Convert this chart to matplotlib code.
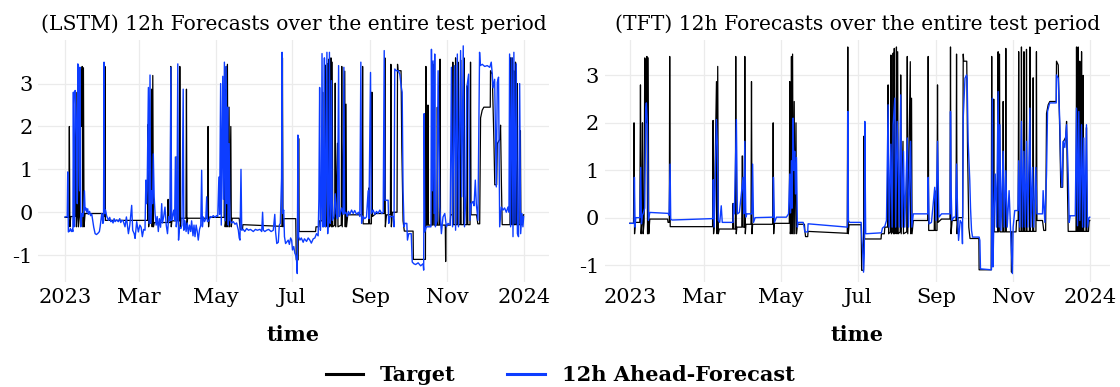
import matplotlib
matplotlib.use("Agg")
import matplotlib.pyplot as plt
import numpy as np
import pandas as pd

# (day of 2023, value)
target = [
    (0, -0.12), (3.0, -0.12), (3.4, 2.0), (3.8, -0.34), (4.5, -0.1),
    (8.0, -0.1), (8.5, 2.8), (9.0, -0.34), (9.6, -0.1), (10.1, 2.0), (10.6, -0.34),
    (11.4, -0.1), (11.9, 3.37), (12.4, 3.3), (12.8, 2.0), (13.2, 2.9), (13.6, 3.4),
    (14.1, -0.34), (14.6, 3.37), (15.1, -0.34), (15.9, -0.03),
    (30.0, -0.03), (30.4, -0.1), (31.4, -0.1), (31.7, 3.4), (32.1, -0.19),
    (65.7, -0.19), (66.1, 2.05), (66.5, -0.34), (67.0, -0.2), (68.8, 2.87), (69.3, -0.34),
    (69.8, 3.19), (70.3, -0.34), (71.0, -0.24),
    (81.7, -0.24), (82.0, 0.3), (82.4, -0.24), (83.8, -0.24), (84.1, 3.4), (84.5, -0.34), (85.0, -0.2),
    (88.9, -0.2), (89.2, 1.3), (89.5, 1.3), (89.8, -0.2), (91.0, -0.2), (91.3, 3.4), (91.7, -0.34),
    (92.2, -0.14), (96.2, -0.14), (96.6, 2.87), (97.0, -0.34), (97.5, -0.14),
    (113.4, -0.14), (113.8, 2.0), (114.2, -0.34), (114.7, -0.12),
    (126.6, -0.12), (127.0, 2.87), (127.4, -0.34), (128.0, -0.2), (128.3, 3.4), (128.7, -0.34),
    (129.2, 3.45), (129.7, -0.34), (130.5, 2.45), (130.9, -0.34), (131.9, 2.0), (132.3, -0.34), (133.0, -0.14),
    (138.6, -0.14), (139.0, -0.29), (139.5, -0.4), (141.2, -0.4), (141.5, -0.29),
    (172.6, -0.33), (173.0, 3.6), (173.4, -0.34), (174.0, -0.15),
    (183.6, -0.15), (184.0, -1.11), (185.5, -1.11), (185.9, 1.72), (186.3, -0.45),
    (199.4, -0.45), (199.7, -0.34), (202.0, -0.34), (202.4, -0.2),
    (204.6, -0.2), (205.0, 2.8), (205.4, -0.34), (206.8, -0.3), (207.2, 3.43), (207.6, -0.34),
    (208.6, -0.3), (209.0, 3.47), (209.4, -0.34), (209.9, 3.57), (210.3, -0.34), (211.2, -0.3),
    (211.6, 3.6), (212.0, -0.34), (212.6, 3.5), (213.0, -0.34), (214.6, -0.3), (215.0, 3.01),
    (215.4, -0.34), (216.8, 1.61), (217.2, -0.34), (219.8, -0.3), (220.2, 3.4), (220.6, -0.34),
    (222.6, 3.29), (223.0, -0.34), (223.6, 2.52), (224.0, -0.34), (225.0, -0.06),
    (236.4, -0.06), (236.8, 3.4), (237.2, -0.27),
    (241.6, -0.27), (242.0, 0.57), (242.4, -0.27), (243.8, -0.27), (244.2, 2.8), (244.6, -0.1), (247.4, -0.03),
    (254.1, -0.03), (254.5, 3.6), (254.9, -0.34), (255.8, -0.06), (258.9, -0.06), (259.3, 3.45),
    (259.7, -0.34), (260.5, 0.0), (264.2, 0.0), (264.6, 3.45), (265.0, 3.3), (267.4, 3.3),
    (268.0, 1.5), (269.0, -0.2), (270.0, -0.44),
    (277.0, -0.44), (277.2, -1.1), (286.8, -1.1), (287.2, 3.4), (287.6, -0.3), (288.4, -0.3),
    (288.8, 2.5), (289.2, -0.3), (291.9, -0.3), (292.3, 3.5), (292.7, -0.3), (293.4, 3.45),
    (293.8, -0.3), (296.0, -0.3), (296.3, 2.45), (296.7, -0.3), (298.0, -0.3), (298.4, 3.57),
    (298.8, -0.3), (302.6, -0.3), (302.9, -1.15), (303.2, -0.3), (306.5, -0.3), (306.9, -0.06),
    (308.2, -0.06), (308.6, 3.5), (309.0, -0.29), (310.5, -0.29), (310.8, 3.6), (311.2, -0.29),
    (312.4, -0.29), (312.8, 3.5), (313.2, -0.29), (314.5, -0.29), (314.8, 3.55), (315.2, -0.29),
    (317.1, -0.29), (317.5, 3.6), (317.9, -0.29), (319.7, -0.29), (320.1, 2.95), (320.5, -0.29),
    (322.3, -0.29), (322.7, 3.5), (323.1, -0.06), (327.5, -0.06), (328.5, -0.27), (330.0, -0.27),
    (330.7, 2.2), (332.0, 2.38), (333.3, 2.45), (338.4, 2.45), (338.6, 3.3), (340.0, 3.22),
    (341.3, 1.68), (342.0, 0.64), (343.5, 0.64), (344.0, 1.6), (346.0, 1.7), (346.6, 2.03),
    (347.3, 0.64), (347.9, -0.29), (354.1, -0.29), (354.5, 3.6), (354.9, -0.29), (355.4, -0.29),
    (355.8, 3.6), (356.2, -0.29), (356.7, -0.29), (357.1, 3.3), (357.5, -0.29), (358.1, -0.29),
    (358.5, 3.5), (358.9, -0.29), (359.4, -0.29), (359.8, 3.0), (360.2, -0.29), (362.0, -0.29),
    (362.4, 1.9), (362.8, -0.29), (364.0, -0.29), (364.5, -0.06), (365.0, -0.06),
]

lstm_forecast = [
    (0.0, -0.11), (1.7, -0.1), (2.1, 0.94), (2.6, -0.46), (3.5, -0.44), (4.2, -0.38), (5.0, -0.45),
    (5.8, -0.4), (6.2, -0.45), (6.6, 2.8), (7.1, -0.34), (7.6, -0.3), (8.0, 2.84), (8.6, 2.4),
    (9.3, 1.67), (9.7, 0.2), (10.1, 3.46), (10.6, 3.42), (11.1, 1.67), (11.5, 0.5), (11.9, 3.38),
    (12.5, -0.34), (13.3, -0.03), (14.2, -0.1), (14.6, -0.02), (15.4, 0.5), (15.9, 0.05),
    (16.5, 0.1), (17.2, 0.0), (18.0, 0.08), (18.55, -0.05), (19.5, 0.02), (20.3, -0.08),
    (21.2, -0.04), (22.0, -0.2), (22.8, -0.35), (23.9, -0.5), (25.0, -0.52), (26.5, -0.48),
    (27.3, -0.45), (27.9, -0.34), (29.2, -0.03), (30.1, -0.26), (30.6, -0.2), (31.0, 3.5),
    (31.5, -0.03), (32.2, 0.05), (33.0, -0.08), (34.5, -0.19), (35.5, -0.12), (36.4, -0.22),
    (37.1, -0.19), (38.2, -0.25), (39.0, -0.15), (39.8, -0.22), (41.0, -0.18), (42.4, -0.22),
    (43.5, -0.15), (44.3, -0.24), (45.1, -0.19), (46.2, -0.2), (47.7, -0.34), (48.8, -0.11),
    (50.4, -0.5), (51.5, -0.3), (53.0, 0.16), (53.8, -0.42), (55.0, -0.5), (55.7, -0.61),
    (57.0, -0.22), (58.3, -0.46), (59.5, -0.3), (60.5, -0.35), (61.5, -0.57), (62.5, -0.4),
    (63.6, -0.42), (64.3, 0.75), (64.8, 0.2), (65.3, 0.5), (66.3, 2.91), (66.8, -0.26),
    (67.6, 3.2), (68.1, -0.26), (68.9, 0.5), (69.6, 0.2), (70.2, 1.36), (70.9, 0.36),
    (71.6, -0.03), (72.5, -0.3), (73.3, -0.1), (74.2, -0.45), (75.0, -0.15), (76.0, -0.35),
    (76.9, 0.2), (77.5, -0.25), (78.5, -0.1), (79.5, 0.12), (80.5, -0.3), (81.5, -0.5),
    (82.5, -0.1), (83.5, -0.2), (84.2, 3.38), (84.8, -0.19), (85.5, -0.1), (86.5, 0.05),
    (87.2, -0.2), (87.8, 1.29), (88.5, -0.34), (89.0, -0.2), (89.7, 3.46), (90.3, -0.65),
    (91.0, -0.35), (92.2, -0.38), (93.0, -0.3), (94.0, 2.87), (94.5, -0.42), (95.4, -0.2),
    (96.3, -0.45), (97.2, -0.25), (98.1, -0.5), (99.0, -0.3), (100.0, -0.45), (100.7, -0.2),
    (101.8, -0.55), (102.6, -0.3), (103.4, -0.57), (104.3, -0.3), (105.2, -0.45), (106.0, -0.65),
    (107.0, -0.4), (108.0, -0.3), (108.7, 0.98), (109.3, -0.34), (110.0, -0.11), (111.0, -0.22),
    (112.0, -0.15), (112.7, 0.36), (113.3, -0.22), (114.5, -0.2), (115.6, -0.1), (116.6, -0.12),
    (118.0, -0.08), (119.3, -0.12), (120.5, -0.08), (121.5, -0.1), (122.4, 0.82), (123.0, -0.05),
    (123.8, 3.0), (124.3, -0.3), (125.5, 3.17), (126.0, 0.3), (126.8, 3.5), (127.4, -0.2),
    (128.2, 3.4), (128.8, 0.2), (129.4, 2.45), (129.9, -0.3), (130.6, 1.6), (131.2, -0.19),
    (132.5, -0.25), (133.9, -0.22), (135.2, -0.28), (136.5, -0.25), (137.9, -0.42), (138.6, -0.6),
    (139.2, -0.65), (140.0, 1.0), (140.6, -0.42), (141.8, -0.4), (143.0, -0.45), (144.5, -0.38),
    (146.0, -0.42), (147.5, -0.4), (149.8, -0.45), (151.5, -0.4), (153.0, -0.42), (155.1, -0.4),
    (156.5, -0.45), (157.2, 0.0), (157.8, -0.42), (159.0, -0.45), (160.4, -0.42), (162.0, -0.4),
    (164.0, -0.45), (165.7, -0.42), (166.9, -0.05), (167.5, -0.45), (168.5, -0.73), (169.7, -0.7),
    (170.5, -0.3), (171.3, -0.26), (172.3, 0.8), (172.7, 3.73), (173.2, -0.03), (174.0, 0.05),
    (174.6, -0.57), (175.5, -0.73), (176.3, -0.7), (177.6, -0.65), (178.5, -0.75), (179.5, -0.6),
    (180.3, -0.65), (181.0, -0.88), (182.0, -0.8), (182.9, -0.96), (183.6, -1.0), (184.2, -1.1),
    (184.8, -1.43), (185.3, 1.8), (185.9, -0.57), (186.9, -0.65), (188.0, -0.6), (189.5, -0.7),
    (190.5, -0.62), (192.2, -0.68), (193.5, -0.6), (194.8, -0.65), (196.0, -0.72), (197.5, -0.62),
    (198.8, -0.6), (200.1, -0.5), (201.4, -0.55), (202.0, 0.3), (202.6, 2.91), (203.2, -0.42),
    (204.0, 0.2), (204.5, 3.7), (205.2, -0.34), (205.8, 0.3), (206.4, 3.6), (207.0, -0.34),
    (207.6, 0.5), (208.4, 3.73), (209.0, -0.5), (209.8, 0.2), (210.4, 3.73), (211.0, -0.26),
    (211.5, 0.1), (212.0, 3.07), (212.7, -0.19), (214.0, -0.1), (215.0, 0.43), (215.8, -0.03),
    (216.8, -0.15), (217.7, 3.42), (218.3, -0.1), (219.0, -0.03), (220.0, 0.1), (221.3, -0.05),
    (221.9, 3.38), (222.5, -0.03), (223.5, 0.0), (224.5, -0.1), (225.5, 0.02), (226.6, -0.05),
    (228.0, 0.05), (229.3, -0.03), (230.5, 0.04), (232.0, -0.05), (233.5, 0.0), (234.6, -0.1),
    (235.4, 3.5), (236.0, -0.26), (237.3, -0.1), (238.5, -0.15), (239.9, -0.11), (241.2, 0.5),
    (241.8, -0.15), (243.1, 3.26), (243.7, -0.03), (245.2, 0.05), (246.5, -0.05), (247.9, 0.02),
    (249.0, -0.03), (250.5, 0.05), (252.0, -0.03), (253.2, 0.0), (254.0, 3.77), (254.6, 0.28),
    (255.8, 0.28), (257.1, 0.28), (257.6, -0.26), (258.5, -0.1), (260.0, -0.1), (261.1, -0.1),
    (261.8, -0.34), (262.4, 3.34), (263.7, 3.3), (265.1, 3.3), (266.4, 3.22), (267.7, 2.9),
    (268.3, 2.8), (269.0, 0.5), (269.8, -0.34), (270.4, -0.26), (272.0, -0.26), (272.5, -0.65),
    (273.5, -0.5), (275.5, -0.5), (276.3, -1.16), (277.5, -1.2), (279.0, -1.22), (281.0, -1.18),
    (283.0, -1.25), (285.0, -1.2), (285.4, -1.35), (285.8, 2.3), (286.3, -0.46), (287.6, -0.34),
    (289.5, -0.34), (291.2, -0.34), (291.6, 3.8), (292.3, 0.5), (292.9, 3.53), (293.7, -0.03),
    (294.2, 3.69), (294.7, -0.34), (296.0, -0.2), (296.9, 3.3), (298.2, 0.12), (299.5, -0.5),
    (300.8, -0.11), (302.2, -0.03), (303.5, -0.34), (304.8, -0.26), (306.5, -0.3), (307.5, 3.38),
    (308.4, -0.34), (310.1, 3.42), (310.8, -0.42), (312.2, 3.69), (313.1, -0.34), (314.8, 3.77),
    (315.7, 0.36), (316.9, 3.88), (317.9, -0.34), (319.0, 0.4), (319.7, 2.9), (321.2, 3.22),
    (322.2, -0.19), (323.3, 0.2), (324.6, 0.25), (325.5, 0.15), (326.5, 0.75), (327.3, 0.2),
    (328.6, -0.19), (329.9, 3.73), (330.5, 3.42), (332.0, 3.45), (334.0, 3.4), (336.0, 3.42),
    (338.0, 3.38), (339.2, 3.5), (340.0, 3.22), (340.6, 2.9), (341.9, 3.1), (343.2, 0.59),
    (344.0, 3.03), (345.0, 3.15), (345.9, -0.34), (347.2, 0.12), (348.5, 0.05), (349.8, 0.1),
    (351.2, 0.0), (352.5, 0.12), (353.3, 0.0), (353.8, 3.69), (354.6, -0.34), (355.6, 3.6),
    (356.5, -0.57), (357.2, 3.73), (358.1, -0.26), (359.1, 3.46), (360.0, -0.5), (360.9, -0.57),
    (361.8, 3.0), (362.6, -0.5), (363.6, -0.03), (364.4, -0.34), (365.0, -0.1),
]

tft_forecast = [
    (0, -0.12), (3.4, -0.12), (3.7, 0.85), (4.2, -0.2), (4.8, 0.0), (8.0, 0.0), (8.7, 1.06),
    (9.3, -0.13), (10.0, 0.05), (10.6, 0.08), (11.9, 0.2), (12.7, 2.31), (13.2, 2.42), (14.0, 1.96),
    (14.8, -0.06), (15.9, 0.11), (30.4, 0.09), (31.2, 0.05), (32.0, 1.13), (32.5, -0.03),
    (33.5, -0.05), (66.0, -0.02), (66.3, 0.8), (67.0, -0.2), (68.8, 2.07), (69.6, 1.5),
    (70.3, -0.06), (71.4, -0.1), (72.6, 0.25), (73.4, -0.1), (82.0, -0.1), (82.3, 0.29),
    (83.0, 0.08), (84.6, 2.07), (85.4, 0.08), (87.0, 0.11), (89.9, 0.85), (90.5, 0.08),
    (91.3, 1.61), (92.1, 0.01), (93.0, 0.08), (96.9, 0.08), (97.5, 1.13), (98.2, -0.1),
    (99.5, 0.0), (113.8, 0.01), (114.0, 0.85), (114.8, -0.1), (116.4, 0.01), (124.3, 0.01),
    (126.0, 0.08), (127.0, 0.92), (127.6, 0.1), (128.3, 1.2), (128.8, 0.2), (129.6, 2.1),
    (130.2, 1.0), (130.9, 1.4), (131.5, 0.5), (132.3, 1.27), (133.0, -0.2), (133.6, -0.1),
    (137.6, -0.1), (138.2, -0.17), (138.9, -0.3), (141.2, -0.3), (141.5, -0.13), (172.7, -0.2),
    (173.1, 2.24), (173.5, -0.06), (174.5, -0.1), (183.6, -0.1), (184.0, -0.34), (184.8, -0.7),
    (185.5, -1.15), (186.1, -0.76), (186.5, 2.03), (187.2, -0.34), (199.7, -0.32), (200.5, -0.22),
    (202.4, -0.18), (203.7, -0.06), (205.0, 2.38), (205.8, -0.2), (207.2, 1.55), (208.2, -0.2),
    (209.0, 1.96), (210.3, 2.52), (211.0, -0.2), (212.2, 2.03), (213.0, 1.13), (213.8, -0.2),
    (215.0, 2.59), (216.0, -0.2), (217.2, 1.4), (218.2, -0.2), (220.2, 1.68), (221.2, -0.2),
    (222.8, 1.61), (223.8, -0.2), (225.0, 0.08), (236.4, 0.08), (236.8, 0.85), (237.5, -0.13),
    (239.4, -0.1), (242.0, 0.64), (243.0, -0.06), (244.2, 1.61), (245.3, 0.01), (247.4, 0.08),
    (254.2, 0.08), (254.5, 2.24), (255.0, 0.6), (255.6, -0.06), (257.1, 0.01), (258.5, 0.01),
    (259.3, 1.13), (260.3, -0.06), (260.9, -0.48), (262.2, -0.06), (263.5, -0.13), (264.0, -0.55),
    (264.6, 2.1), (266.0, 2.94), (267.2, 3.01), (267.7, 2.94), (268.5, 1.61), (269.8, 0.78),
    (270.4, 0.2), (271.2, -0.27), (272.0, -0.41), (277.2, -0.41), (277.8, -0.48), (278.3, -1.08),
    (287.0, -1.1), (287.7, 2.52), (288.2, -1.04), (289.0, 0.08), (290.0, 0.92), (291.0, -0.2),
    (292.3, 2.66), (293.1, -0.2), (293.7, 1.96), (294.5, -0.27), (296.3, 1.4), (297.1, -0.2),
    (298.4, 0.99), (299.5, -0.2), (301.0, 0.57), (302.1, -0.2), (303.6, -1.18), (304.2, -0.2),
    (305.5, 0.15), (308.0, 0.15), (308.6, 1.2), (309.5, -0.2), (310.8, 2.03), (311.6, -0.2),
    (312.7, 1.4), (313.8, -0.2), (314.8, 1.61), (315.8, -0.2), (317.5, 2.31), (318.3, -0.2),
    (319.6, 1.06), (320.6, -0.2), (322.2, 1.06), (323.1, 0.08), (327.5, 0.08), (328.0, 0.57),
    (329.4, -0.1), (330.7, 0.92), (331.5, 2.24), (332.8, 2.38), (333.3, 2.42), (338.4, 2.42),
    (338.6, 3.01), (340.0, 2.94), (341.3, 1.96), (342.0, 1.06), (343.0, 0.64), (343.9, 1.61),
    (345.2, 1.48), (346.6, 1.96), (347.9, 0.92), (348.7, -0.1), (349.5, 0.04), (353.5, 0.04),
    (354.5, 2.31), (355.3, -0.17), (356.3, 2.24), (357.1, -0.06), (358.5, 1.96), (359.3, -0.2),
    (360.3, 1.68), (361.1, -0.2), (362.4, 1.96), (363.2, -0.2), (364.4, 0.0), (365.0, 0.01),
]

tick_dates = ["2023-01-01", "2023-03-01", "2023-05-01", "2023-07-01",
              "2023-09-01", "2023-11-01", "2024-01-01"]
tick_labels = ["2023", "Mar", "May", "Jul", "Sep", "Nov", "2024"]
y_ticks = [-1, 0, 1, 2, 3]

START = pd.Timestamp("2023-01-01")
BLUE = "#0d3dff"
GRID = "#ebebeb"


def to_frame(points):
    df = pd.DataFrame(points, columns=["day", "value"])
    df["time"] = START + pd.to_timedelta(df["day"], unit="D")
    return df


def style_axis(ax, title, ylim, xlim_days):
    ax.set_title(title, fontsize=14.6, family="DejaVu Serif", pad=7)
    ax.set_xticks(pd.to_datetime(tick_dates))
    ax.set_xticklabels(tick_labels)
    ax.set_yticks(y_ticks)
    ax.set_yticklabels([str(v) for v in y_ticks])
    ax.set_ylim(*ylim)
    ax.set_xlim(START + pd.Timedelta(days=xlim_days[0]), START + pd.Timedelta(days=xlim_days[1]))
    ax.grid(True, color=GRID, linewidth=0.9)
    ax.set_axisbelow(True)
    for s in ax.spines.values():
        s.set_visible(False)
    ax.tick_params(length=0, labelsize=15, pad=4)
    for lab in ax.get_xticklabels() + ax.get_yticklabels():
        lab.set_family("DejaVu Serif")
    ax.set_xlabel("time", fontsize=15, family="DejaVu Serif", fontweight="bold", labelpad=13)


tgt = to_frame(target)
lstm = to_frame(lstm_forecast)
tft = to_frame(tft_forecast)

fig = plt.figure(figsize=(11.2, 3.87), dpi=100)
ax1 = fig.add_axes([0.034, 0.271, 0.456, 0.626])
ax2 = fig.add_axes([0.540, 0.271, 0.451, 0.626])

for ax, fc in [(ax1, lstm), (ax2, tft)]:
    ax.plot(tgt["time"], tgt["value"], color="black", linewidth=0.9, label="Target")
    ax.plot(fc["time"], fc["value"], color=BLUE, linewidth=1.0, label="12h Ahead-Forecast")

style_axis(ax1, "(LSTM) 12h Forecasts over the entire test period", (-1.63, 4.02), (-21.5, 385))
style_axis(ax2, "(TFT) 12h Forecasts over the entire test period", (-1.36, 3.75), (-19.8, 381))

handles, labels = ax1.get_legend_handles_labels()
leg = fig.legend(handles, labels, loc="center", bbox_to_anchor=(0.5, 0.03), ncol=2,
                 frameon=False, handlelength=1.8, columnspacing=2.5,
                 prop={"family": "DejaVu Serif", "weight": "bold", "size": 15})
for line in leg.get_lines():
    line.set_linewidth(2.2)

fig.savefig("out.png", dpi=100)
